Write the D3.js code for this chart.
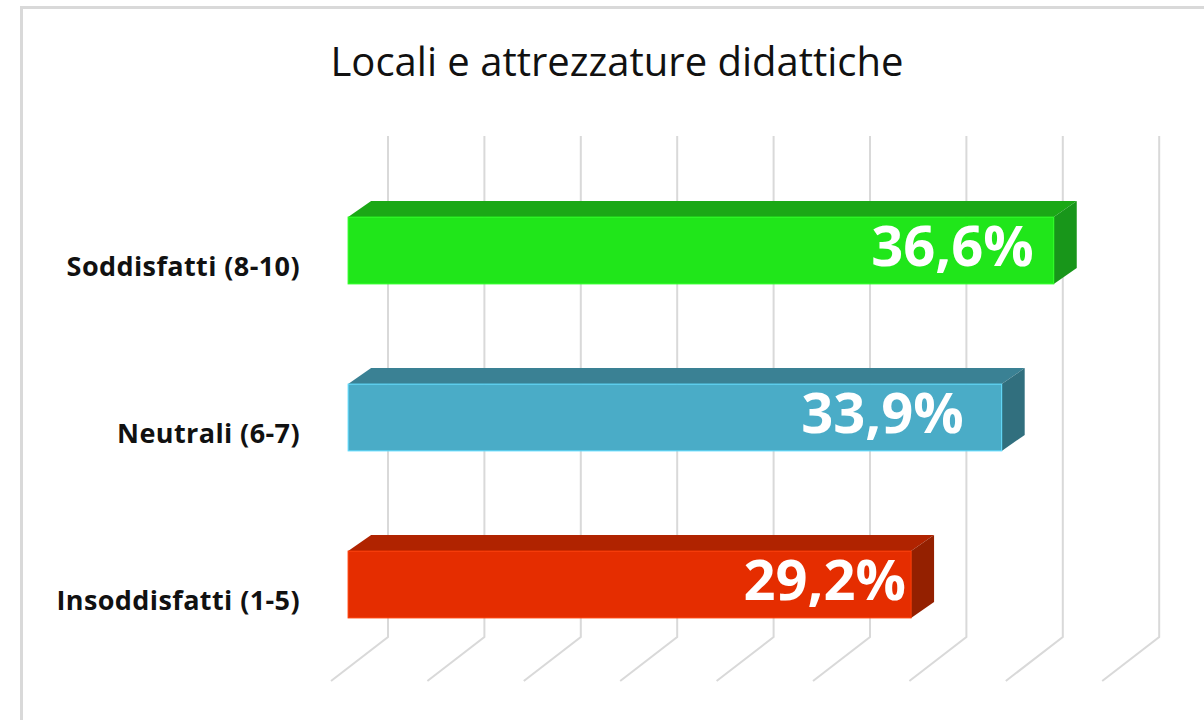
<!DOCTYPE html>
<html>
<head>
<meta charset="utf-8">
<style>
  body { margin: 0; background: #fff; }
  svg text { font-family: "Open Sans", "Noto Sans", sans-serif; }
</style>
<script src="https://cdn.jsdelivr.net/npm/d3@7"></script>
</head>
<body>
<script>
const title = "Locali e attrezzature didattiche";
const categories = ["Soddisfatti (8-10)", "Neutrali (6-7)", "Insoddisfatti (1-5)"];
const values = [36.6, 33.9, 29.2];
const valueLabels = ["36,6%", "33,9%", "29,2%"];
const tickValues = [0, 5, 10, 15, 20, 25, 30, 35, 40];

const frontColors = ["#20e61a", "#4aacc7", "#e52d00"];
const topColors = ["#1ba816", "#3a8194", "#b02300"];
const sideColors = ["#18961a", "#316f7e", "#942000"];
// label position tweaks (px left of the bar end), as placed in the original
const labelShift = [20, 38, 5];

const W = 1204, H = 720;
const svg = d3.select("body").append("svg").attr("width", W).attr("height", H);

// chart border (right and bottom run past the window)
svg.append("rect")
  .attr("x", 21.5).attr("y", 7.5)
  .attr("width", 1200).attr("height", 730)
  .attr("fill", "#fff").attr("stroke", "#d9d9d9").attr("stroke-width", 3);

svg.append("text")
  .attr("x", 617).attr("y", 76)
  .attr("text-anchor", "middle")
  .attr("font-size", 40)
  .attr("fill", "#111")
  .text(title);

// floor front edge scale and depth of the 3d box
const xFloor = d3.scaleLinear().domain([0, 40]).range([331, 331 + 8 * 96.4]);
const depth = { dx: 57, dy: 44 };
const wallTop = 136, floorBack = 637;

// gridlines: back wall + floor
svg.append("g").selectAll("path")
  .data(tickValues)
  .join("path")
  .attr("d", t => {
    const xb = xFloor(t) + depth.dx;
    return `M${xb},${wallTop}L${xb},${floorBack}L${xFloor(t)},${floorBack + depth.dy}`;
  })
  .attr("fill", "none")
  .attr("stroke", "#d9d9d9")
  .attr("stroke-width", 2);

// bars sit at 0.3 of the depth
const barOff = 0.3 * depth.dx;
const bdx = 23, bdy = 16;
const y = d3.scaleBand().domain(categories).range([167, 668])
  .paddingInner(0.6).paddingOuter(0.3);

const bars = svg.append("g").selectAll("g")
  .data(categories)
  .join("g");

bars.append("path")
  .attr("d", (c, i) => {
    const x0 = xFloor(0) + barOff, x1 = xFloor(values[i]) + barOff, y0 = y(c);
    return `M${x0},${y0}L${x1},${y0}L${x1 + bdx},${y0 - bdy}L${x0 + bdx},${y0 - bdy}Z`;
  })
  .attr("fill", (c, i) => topColors[i]);

bars.append("path")
  .attr("d", (c, i) => {
    const x1 = xFloor(values[i]) + barOff, y0 = y(c), y1 = y0 + y.bandwidth();
    return `M${x1},${y0}L${x1 + bdx},${y0 - bdy}L${x1 + bdx},${y1 - bdy}L${x1},${y1}Z`;
  })
  .attr("fill", (c, i) => sideColors[i]);

bars.append("rect")
  .attr("x", xFloor(0) + barOff)
  .attr("y", c => y(c))
  .attr("width", (c, i) => xFloor(values[i]) - xFloor(0))
  .attr("height", y.bandwidth())
  .attr("fill", (c, i) => frontColors[i])
  .attr("stroke", (c, i) => d3.color(frontColors[i]).brighter(0.7))
  .attr("stroke-width", 1);

bars.append("text")
  .attr("x", (c, i) => xFloor(values[i]) + barOff - labelShift[i])
  .attr("y", c => y(c) + 49)
  .attr("text-anchor", "end")
  .attr("font-size", 56)
  .attr("font-weight", "bold")
  .attr("fill", "#fff")
  .text((c, i) => valueLabels[i]);

// category labels
svg.append("g").selectAll("text")
  .data(categories)
  .join("text")
  .attr("x", 300)
  .attr("y", c => y(c) + 59)
  .attr("text-anchor", "end")
  .attr("font-size", 27)
  .attr("font-weight", "bold")
  .attr("letter-spacing", 0.4)
  .attr("fill", "#111")
  .text(c => c);
</script>
</body>
</html>
